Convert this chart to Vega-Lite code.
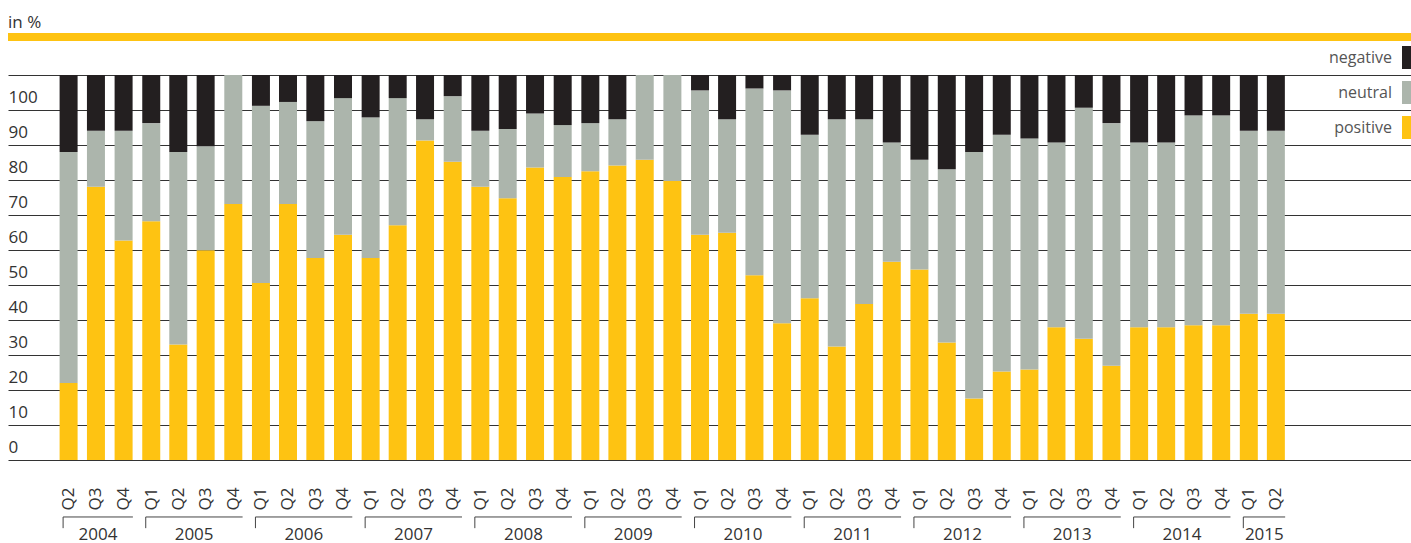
{
  "$schema": "https://vega.github.io/schema/vega-lite/v6.json",
  "width": 1403,
  "height": 385,
  "autosize": {"type": "none"},
  "padding": {"left": 8, "top": 75, "right": 0, "bottom": 83},
  "background": "white",
  "title": {"text": "in %", "anchor": "start", "frame": "group", "font": "Open Sans", "fontSize": 17, "fontWeight": "normal", "color": "#333333", "offset": -12, "baseline": "alphabetic"},
  "config": {"view": {"stroke": null}},
  "data": {
    "format": {"parse": {"date": "utc:'%Y-%m-%d'"}},
    "values": [
      {"year": 2004, "date": "2004-04-01", "positive": 20, "neutral": 60, "negative": 20},
      {"year": 2004, "date": "2004-07-01", "positive": 71, "neutral": 14.5, "negative": 14.5},
      {"year": 2004, "date": "2004-10-01", "positive": 57, "neutral": 28.5, "negative": 14.5},
      {"year": 2005, "date": "2005-01-01", "positive": 62, "neutral": 25.5, "negative": 12.5},
      {"year": 2005, "date": "2005-04-01", "positive": 30, "neutral": 50, "negative": 20},
      {"year": 2005, "date": "2005-07-01", "positive": 54.5, "neutral": 27, "negative": 18.5},
      {"year": 2005, "date": "2005-10-01", "positive": 66.5, "neutral": 33.5, "negative": 0},
      {"year": 2006, "date": "2006-01-01", "positive": 46, "neutral": 46, "negative": 8},
      {"year": 2006, "date": "2006-04-01", "positive": 66.5, "neutral": 26.5, "negative": 7},
      {"year": 2006, "date": "2006-07-01", "positive": 52.5, "neutral": 35.5, "negative": 12},
      {"year": 2006, "date": "2006-10-01", "positive": 58.5, "neutral": 35.5, "negative": 6},
      {"year": 2007, "date": "2007-01-01", "positive": 52.5, "neutral": 36.5, "negative": 11},
      {"year": 2007, "date": "2007-04-01", "positive": 61, "neutral": 33, "negative": 6},
      {"year": 2007, "date": "2007-07-01", "positive": 83, "neutral": 5.5, "negative": 11.5},
      {"year": 2007, "date": "2007-10-01", "positive": 77.5, "neutral": 17, "negative": 5.5},
      {"year": 2008, "date": "2008-01-01", "positive": 71, "neutral": 14.5, "negative": 14.5},
      {"year": 2008, "date": "2008-04-01", "positive": 68, "neutral": 18, "negative": 14},
      {"year": 2008, "date": "2008-07-01", "positive": 76, "neutral": 14, "negative": 10},
      {"year": 2008, "date": "2008-10-01", "positive": 73.5, "neutral": 13.5, "negative": 13},
      {"year": 2009, "date": "2009-01-01", "positive": 75, "neutral": 12.5, "negative": 12.5},
      {"year": 2009, "date": "2009-04-01", "positive": 76.5, "neutral": 12, "negative": 11.5},
      {"year": 2009, "date": "2009-07-01", "positive": 78, "neutral": 22, "negative": 0},
      {"year": 2009, "date": "2009-10-01", "positive": 72.5, "neutral": 27.5, "negative": 0},
      {"year": 2010, "date": "2010-01-01", "positive": 58.5, "neutral": 37.5, "negative": 4},
      {"year": 2010, "date": "2010-04-01", "positive": 59, "neutral": 29.5, "negative": 11.5},
      {"year": 2010, "date": "2010-07-01", "positive": 48, "neutral": 48.5, "negative": 3.5},
      {"year": 2010, "date": "2010-10-01", "positive": 35.5, "neutral": 60.5, "negative": 4},
      {"year": 2011, "date": "2011-01-01", "positive": 42, "neutral": 42.5, "negative": 15.5},
      {"year": 2011, "date": "2011-04-01", "positive": 29.5, "neutral": 59, "negative": 11.5},
      {"year": 2011, "date": "2011-07-01", "positive": 40.5, "neutral": 48, "negative": 11.5},
      {"year": 2011, "date": "2011-10-01", "positive": 51.5, "neutral": 31, "negative": 17.5},
      {"year": 2012, "date": "2012-01-01", "positive": 49.5, "neutral": 28.5, "negative": 22},
      {"year": 2012, "date": "2012-04-01", "positive": 30.5, "neutral": 45, "negative": 24.5},
      {"year": 2012, "date": "2012-07-01", "positive": 16, "neutral": 64, "negative": 20},
      {"year": 2012, "date": "2012-10-01", "positive": 23, "neutral": 61.5, "negative": 15.5},
      {"year": 2013, "date": "2013-01-01", "positive": 23.5, "neutral": 60, "negative": 16.5},
      {"year": 2013, "date": "2013-04-01", "positive": 34.5, "neutral": 48, "negative": 17.5},
      {"year": 2013, "date": "2013-07-01", "positive": 31.5, "neutral": 60, "negative": 8.5},
      {"year": 2013, "date": "2013-10-01", "positive": 24.5, "neutral": 63, "negative": 12.5},
      {"year": 2014, "date": "2014-01-01", "positive": 34.5, "neutral": 48, "negative": 17.5},
      {"year": 2014, "date": "2014-04-01", "positive": 34.5, "neutral": 48, "negative": 17.5},
      {"year": 2014, "date": "2014-07-01", "positive": 35, "neutral": 54.5, "negative": 10.5},
      {"year": 2014, "date": "2014-10-01", "positive": 35, "neutral": 54.5, "negative": 10.5},
      {"year": 2015, "date": "2015-01-01", "positive": 38, "neutral": 47.5, "negative": 14.5},
      {"year": 2015, "date": "2015-04-01", "positive": 38, "neutral": 47.5, "negative": 14.5}
    ]
  },
  "layer": [
    {
      "transform": [{"fold": ["positive", "neutral", "negative"], "as": ["answer", "share"]}],
      "mark": {"type": "bar", "width": 18, "stroke": null},
      "encoding": {
        "x": {
          "field": "date", "type": "temporal",
          "scale": {"type": "utc", "domain": [{"year": 2003, "month": 9, "date": 29, "utc": true}, {"year": 2016, "month": 6, "date": 7, "utc": true}]},
          "axis": {
            "tickCount": {"interval": "month", "step": 3},
            "labelExpr": "datum.value < 1080000000000 || datum.value > 1428000000000 ? '' : 'Q' + utcquarter(datum.value)",
            "labelAngle": -90, "labelPadding": 27, "ticks": false, "tickSize": 0, "domain": false, "grid": false,
            "labelFont": "Open Sans", "labelFontSize": 17, "labelColor": "#333333", "title": null,
            "labelOverlap": false, "labelFlush": false, "labelBound": false
          }
        },
        "y": {
          "field": "share", "type": "quantitative", "stack": "zero",
          "scale": {"domain": [0, 100], "nice": false, "zero": true},
          "axis": {
            "values": [0, 9.090909, 18.181818, 27.272727, 36.363636, 45.454545, 54.545455, 63.636364, 72.727273, 81.818182, 90.909091, 100],
            "tickCount": 30,
            "grid": true, "gridColor": "#333333", "gridWidth": 1, "gridOpacity": 1,
            "ticks": false, "tickSize": 0, "domain": false,
            "labelAlign": "left", "labelPadding": 0, "labelBaseline": "alphabetic", "labelOffset": -8,
            "labelFont": "Open Sans", "labelFontSize": 17, "labelColor": "#333333",
            "labelExpr": "datum.value > 99 ? '' : format(round(datum.value * 1.1), 'd')",
            "title": null, "labelOverlap": false, "labelFlush": false, "labelBound": false
          }
        },
        "color": {
          "field": "answer", "type": "nominal",
          "scale": {"domain": ["negative", "neutral", "positive"], "range": ["#231f20", "#acb5ac", "#fec312"]},
          "legend": {
            "orient": "none", "legendX": 1394, "legendY": -29, "title": null, "padding": 0,
            "symbolType": "square", "symbolSize": 529, "symbolStrokeWidth": 0, "symbolOpacity": 1,
            "labelAlign": "right", "labelOffset": -33, "labelFont": "Open Sans", "labelFontSize": 16, "labelColor": "#555555",
            "rowPadding": 12,
            "encode": {
              "symbols": {"update": {"fill": {"signal": "datum.value === 'neutral' ? '#bcbdc0' : scale('color', datum.value)"}}},
              "labels": {"update": {"dy": {"value": 4}}}
            }
          }
        },
        "order": {"field": "answer", "sort": "descending"}
      }
    },
    {
      "data": {"values": [{}]},
      "mark": {"type": "rule", "color": "#fec312", "strokeWidth": 8},
      "encoding": {
        "y": {"datum": 109.9, "type": "quantitative", "scale": {"domain": [0, 100], "nice": false}}
      }
    },
    {
      "transform": [{"aggregate": [{"op": "mean", "field": "date", "as": "mid"}, {"op": "min", "field": "date", "as": "first"}, {"op": "max", "field": "date", "as": "last"}], "groupby": ["year"]}],
      "layer": [
        {
          "mark": {"type": "text", "font": "Open Sans", "fontSize": 17, "color": "#333333", "align": "center", "baseline": "alphabetic", "xOffset": 2},
          "encoding": {
            "x": {"field": "mid", "type": "temporal", "scale": {"type": "utc", "domain": [{"year": 2003, "month": 9, "date": 29, "utc": true}, {"year": 2016, "month": 6, "date": 7, "utc": true}]}},
            "y": {"datum": -20.8, "type": "quantitative", "scale": {"domain": [0, 100], "nice": false}},
            "text": {"field": "year", "type": "nominal"}
          }
        },
        {
          "mark": {"type": "rule", "color": "#444444", "strokeWidth": 1, "xOffset": -5.5, "x2Offset": 9.3},
          "encoding": {
            "x": {"field": "first", "type": "temporal", "scale": {"type": "utc", "domain": [{"year": 2003, "month": 9, "date": 29, "utc": true}, {"year": 2016, "month": 6, "date": 7, "utc": true}]}},
            "x2": {"field": "last"},
            "y": {"datum": -14.8, "type": "quantitative", "scale": {"domain": [0, 100], "nice": false}}
          }
        },
        {
          "mark": {"type": "rule", "color": "#444444", "strokeWidth": 1, "xOffset": -5.5},
          "encoding": {
            "x": {"field": "first", "type": "temporal", "scale": {"type": "utc", "domain": [{"year": 2003, "month": 9, "date": 29, "utc": true}, {"year": 2016, "month": 6, "date": 7, "utc": true}]}},
            "y": {"datum": -14.8, "type": "quantitative", "scale": {"domain": [0, 100], "nice": false}},
            "y2": {"datum": -17.7}
          }
        }
      ]
    }
  ]
}
